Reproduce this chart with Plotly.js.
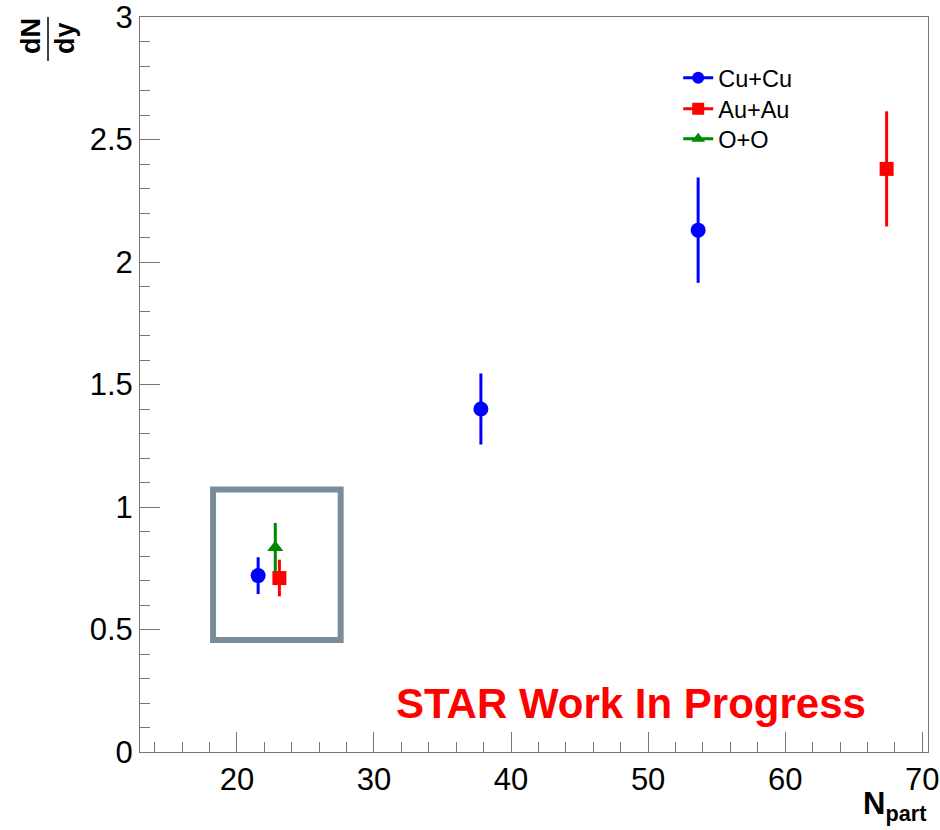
<!DOCTYPE html>
<html>
<head>
<meta charset="utf-8">
<script src="https://cdn.plot.ly/plotly-3.0.1.min.js"></script>
<style>html,body{margin:0;padding:0;background:#fff;}#chart{width:940px;height:830px;}</style>
</head>
<body>
<div id="chart"></div>
<script>
// Cu+Cu
const cuX = [21.55, 37.8, 53.65];
const cuY = [0.72, 1.40, 2.13];
const cuErr = [0.075, 0.145, 0.215];
// Au+Au
const auX = [23.1, 67.4];
const auY = [0.71, 2.38];
const auErr = [0.075, 0.235];
// O+O
const ooX = [22.8];
const ooY = [0.835];
const ooErr = [0.10];
const seriesNames = ["Cu+Cu", "Au+Au", "O+O"];

const FONT = "Liberation Sans, Arial, sans-serif";

function tr(x, y, e, name, color, symbol, size) {
  return {
    x: x, y: y, name: name, type: 'scatter', mode: 'lines+markers',
    line: {color: color, width: 3},
    marker: {color: color, symbol: symbol, size: size},
    error_y: {type: 'data', array: e, visible: true, color: color, thickness: 3, width: 0},
    cliponaxis: false
  };
}
const traces = [
  tr(cuX, cuY, cuErr, seriesNames[0], '#0000ff', 'circle', 15),
  tr(auX, auY, auErr, seriesNames[1], '#ff0000', 'square', 14),
  tr(ooX, ooY, ooErr, seriesNames[2], '#008800', 'triangle-up', 14)
];
const legendIds = ['legend', 'legend2', 'legend3'];
const plotTraces = traces.map(t => Object.assign({}, t, {mode: 'markers', showlegend: false}));
const legendTraces = traces.map((t, i) => Object.assign({}, t, {x: [null], y: [null], legend: legendIds[i],
  error_y: {visible: false}, marker: Object.assign({}, t.marker, {size: 12})}));

function leg(centerPx) {
  return {x: 0.683, y: (752 - centerPx) / 735, xanchor: 'left', yanchor: 'middle', bgcolor: 'rgba(0,0,0,0)',
          font: {family: FONT, size: 23.5, color: '#000'}};
}

const layout = {
  width: 940, height: 830,
  margin: {l: 140, r: 12, t: 17, b: 78},
  paper_bgcolor: '#fff', plot_bgcolor: '#fff',
  font: {family: FONT, color: '#000'},
  showlegend: true,
  legend: leg(78), legend2: leg(109), legend3: leg(139),
  xaxis: {
    range: [12.93, 70.42], dtick: 10, tick0: 0, ticks: 'inside', ticklen: 20, tickcolor: '#777', tickwidth: 1,
    showline: true, linecolor: '#777', linewidth: 1, mirror: true, showgrid: false, zeroline: false,
    ticklabeloverflow: 'allow',
    tickfont: {family: FONT, size: 31, color: '#000'},
    minor: {dtick: 2, tick0: 0, ticks: 'inside', ticklen: 10, tickcolor: '#777', tickwidth: 1, showgrid: false}
  },
  yaxis: {
    range: [0, 3], dtick: 0.5, tick0: 0, ticks: 'inside', ticklen: 20, tickcolor: '#777', tickwidth: 1,
    showline: true, linecolor: '#777', linewidth: 1, mirror: true, showgrid: false, zeroline: false,
    ticklabeloverflow: 'allow',
    tickfont: {family: FONT, size: 31, color: '#000'},
    minor: {dtick: 0.1, tick0: 0, ticks: 'inside', ticklen: 10, tickcolor: '#777', tickwidth: 1, showgrid: false}
  },
  shapes: [
    {type: 'rect', xref: 'x', yref: 'y', x0: 18.26, x1: 27.57, y0: 0.457, y1: 1.071,
     line: {color: '#7a8c99', width: 6}, layer: 'below'},
    {type: 'line', xref: 'paper', yref: 'paper', x0: (48 - 140) / 788, x1: (48 - 140) / 788,
     y0: (752 - 17) / 735, y1: (752 - 61) / 735, line: {color: '#000', width: 1.5}}
  ],
  annotations: [
    {text: '<b>dN</b>', xref: 'paper', yref: 'paper', x: (31 - 140) / 788, y: (752 - 36) / 735,
     showarrow: false, textangle: -90, font: {family: FONT, size: 27, color: '#000'}, xanchor: 'center', yanchor: 'middle'},
    {text: '<b>dy</b>', xref: 'paper', yref: 'paper', x: (65 - 140) / 788, y: (752 - 38) / 735,
     showarrow: false, textangle: -90, font: {family: FONT, size: 27, color: '#000'}, xanchor: 'center', yanchor: 'middle'},
    {text: '<b>N<sub>part</sub></b>', xref: 'paper', yref: 'paper', x: 1.0, y: -(830 - 752 - 2) / 735,
     showarrow: false, font: {family: FONT, size: 31, color: '#000'}, xanchor: 'right', yanchor: 'bottom'},
    {text: '<b>STAR Work In Progress</b>', xref: 'paper', yref: 'paper', x: (868 - 140) / 788, y: (752 - 703) / 735,
     showarrow: false, font: {family: FONT, size: 42, color: '#ff0000'}, xanchor: 'right', yanchor: 'middle'}
  ]
};

Plotly.newPlot('chart', plotTraces.concat(legendTraces), layout, {displayModeBar: false, staticPlot: true});
</script>
</body>
</html>
